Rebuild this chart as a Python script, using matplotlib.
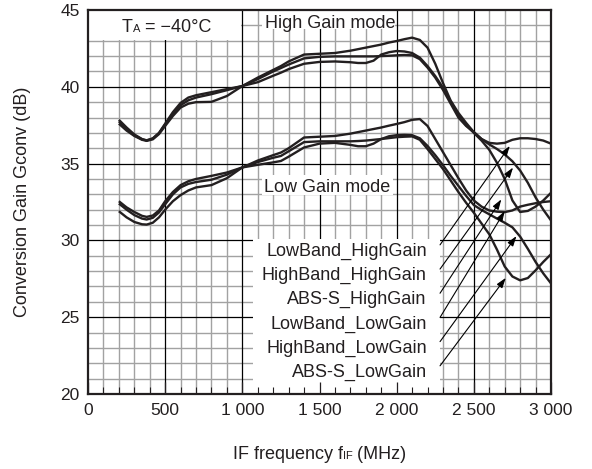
"""
Conversion gain vs IF frequency at TA = -40 C, high and low gain modes.
"""
import matplotlib
matplotlib.use('Agg')
import matplotlib.pyplot as plt
from matplotlib.patches import Rectangle
from matplotlib.ticker import FixedLocator, MultipleLocator
from matplotlib.transforms import offset_copy

plt.rcParams['font.family'] = ['Liberation Sans', 'DejaVu Sans']

# IF frequency (MHz), shared by all curves
freq = [200, 250, 300, 350, 380, 420, 460, 500, 550, 600,
        650, 700, 800, 900, 1000, 1100, 1200, 1250, 1300, 1400,
        1500, 1600, 1700, 1750, 1800, 1850, 1900, 1950, 2000, 2050,
        2100, 2150, 2200, 2250, 2300, 2350, 2400, 2450, 2500, 2550,
        2600, 2650, 2700, 2750, 2800, 2850, 2900, 2950, 3000]

# conversion gain (dB), high gain mode
lowband_high = [37.85, 37.35, 36.9, 36.6, 36.5, 36.65, 37.0, 37.6, 38.35, 38.95,
                39.3, 39.45, 39.65, 39.85, 40.05, 40.6, 41.1, 41.35, 41.65, 42.1,
                42.15, 42.2, 42.35, 42.45, 42.55, 42.65, 42.75, 42.88, 42.98, 43.1,
                43.2, 43.05, 42.55, 41.5, 40.25, 39.1, 38.3, 37.65, 37.05, 36.6,
                36.35, 36.3, 36.35, 36.55, 36.65, 36.65, 36.6, 36.5, 36.3]
highband_high = [37.75, 37.25, 36.85, 36.58, 36.52, 36.62, 36.98, 37.55, 38.25, 38.8,
                 39.12, 39.3, 39.52, 39.78, 40.05, 40.5, 41.0, 41.22, 41.45, 41.85,
                 41.95, 41.98, 41.98, 41.98, 41.98, 41.98, 42.0, 42.02, 42.05, 42.07,
                 42.05, 41.8, 41.25, 40.6, 39.8, 38.9, 38.0, 37.45, 37.05, 36.6,
                 36.25, 35.95, 35.6, 35.15, 34.55, 33.75, 32.8, 32.0, 31.3]
abss_high = [37.6, 37.15, 36.8, 36.55, 36.48, 36.58, 36.92, 37.45, 38.1, 38.65,
             38.9, 39.0, 39.02, 39.4, 40.05, 40.3, 40.72, 40.92, 41.15, 41.5,
             41.62, 41.65, 41.6, 41.55, 41.55, 41.7, 42.1, 42.25, 42.33, 42.3,
             42.2, 41.9, 41.35, 40.7, 39.95, 39.05, 38.15, 37.5, 37.0, 36.5,
             35.9, 35.05, 34.0, 32.6, 31.85, 31.92, 32.2, 32.6, 33.1]

# conversion gain (dB), low gain mode
lowband_low = [32.55, 32.15, 31.85, 31.6, 31.53, 31.62, 31.95, 32.55, 33.15, 33.6,
               33.85, 34.0, 34.2, 34.42, 34.75, 35.2, 35.55, 35.72, 36.0, 36.7,
               36.75, 36.8, 36.95, 37.05, 37.15, 37.25, 37.35, 37.47, 37.58, 37.7,
               37.85, 37.9, 37.45, 36.6, 35.75, 34.9, 34.05, 33.25, 32.6, 32.2,
               31.95, 31.87, 31.84, 31.95, 32.2, 32.32, 32.42, 32.5, 32.55]
highband_low = [31.9, 31.5, 31.2, 31.05, 31.03, 31.15, 31.5, 32.0, 32.55, 32.95,
                33.25, 33.45, 33.6, 34.05, 34.75, 34.92, 35.08, 35.17, 35.45, 36.05,
                36.3, 36.35, 36.22, 36.13, 36.13, 36.3, 36.6, 36.78, 36.85, 36.87,
                36.85, 36.65, 36.15, 35.55, 34.9, 34.2, 33.55, 32.9, 32.3, 31.98,
                31.7, 31.42, 31.15, 30.85, 30.25, 29.45, 28.6, 27.85, 27.2]
abss_low = [32.4, 32.0, 31.65, 31.42, 31.36, 31.47, 31.82, 32.35, 33.0, 33.45,
            33.68, 33.8, 33.95, 34.28, 34.75, 35.1, 35.38, 35.5, 35.8, 36.4,
            36.45, 36.45, 36.45, 36.47, 36.5, 36.55, 36.6, 36.66, 36.72, 36.75,
            36.77, 36.55, 35.95, 35.3, 34.65, 33.9, 33.15, 32.45, 31.8, 31.1,
            30.4, 29.4, 28.3, 27.65, 27.4, 27.55, 28.05, 28.6, 29.1]

series_names = ['LowBand_HighGain', 'HighBand_HighGain', 'ABS-S_HighGain',
                'LowBand_LowGain', 'HighBand_LowGain', 'ABS-S_LowGain']
series_values = [lowband_high, highband_high, abss_high,
                 lowband_low, highband_low, abss_low]

x_ticks = [0, 500, 1000, 1500, 2000, 2500, 3000]
x_tick_labels = ['0', '500', '1 000', '1 500', '2 000', '2 500', '3 000']
y_ticks = [20, 25, 30, 35, 40, 45]

INK = '#231f20'
GRID_MINOR = '#a2a2a2'

fig = plt.figure(figsize=(5.92, 4.69), dpi=100)
ax = fig.add_axes([88 / 592, 75 / 469, 463 / 592, 384 / 469])
ax.set_xlim(0, 3000)
ax.set_ylim(20, 45)

# Grid drawn by hand so the white label boxes can sit over it but under the ticks
ax.vlines([v for v in range(100, 3000, 100) if v % 500], 20, 45, color=GRID_MINOR, lw=1.0, zorder=0.6)
ax.hlines([v for v in range(21, 45) if v % 5], 0, 3000, color=GRID_MINOR, lw=1.0, zorder=0.6)
ax.vlines(x_ticks[1:-1], 20, 45, color='black', lw=0.9, zorder=0.7)
ax.hlines(y_ticks[1:-1], 0, 3000, color='black', lw=0.9, zorder=0.7)

# White boxes behind the texts
for (x0, y0, x1, y1) in [(0, 43.06, 992, 45), (1128, 43.76, 1992, 45),
                         (1126, 32.96, 1979, 34.26), (1071, 20, 2281, 30.1)]:
    ax.add_patch(Rectangle((x0, y0), x1 - x0, y1 - y0, facecolor='white',
                           edgecolor='none', zorder=1))

# Curves
for values in series_values:
    ax.plot(freq, values, color=INK, lw=1.7, zorder=3, solid_capstyle='butt')

# Labels with arrows pointing at the curves
label_top = 29.28
label_step = 1.575
arrow_heads = [(2733, 36.15), (2754, 34.74), (2678, 32.67),
               (2700, 31.9), (2776, 30.28), (2707, 27.56)]
for i, name in enumerate(series_names):
    y = label_top - i * label_step
    ax.text(2195, y, name, ha='right', va='center', fontsize=13, color=INK, zorder=4)
    ax.annotate('', xy=arrow_heads[i], xytext=(2281, y + 0.43),
                arrowprops=dict(arrowstyle='-|>,head_length=0.6,head_width=0.2',
                                color='black', lw=0.8, mutation_scale=10,
                                shrinkA=0, shrinkB=0),
                zorder=4)

ax.text(1147, 43.85, 'High Gain mode', ha='left', va='baseline', fontsize=13, color=INK, zorder=4)
ax.text(1141, 33.17, 'Low Gain mode', ha='left', va='baseline', fontsize=13, color=INK, zorder=4)


def draw_parts(x, y, parts, transform, center=False):
    # Lay out text pieces of different sizes on one baseline
    renderer = fig.canvas.get_renderer()
    widths = []
    for s, size in parts:
        t = fig.text(0, 0, s, fontsize=size)
        widths.append(t.get_window_extent(renderer).width)
        t.remove()
    dx = -sum(widths) / 2 if center else 0
    for (s, size), w in zip(parts, widths):
        fig.text(x, y, s, fontsize=size, color=INK, ha='left', va='baseline',
                 transform=offset_copy(transform, fig, x=dx, y=0, units='dots'),
                 zorder=5)
        dx += w


draw_parts(218, 43.55, [('T', 13), ('A', 8), (' = \u221240\u00b0C', 13)], ax.transData)
draw_parts(319.5 / 592, 10.5 / 469, [('IF frequency f', 13), ('IF', 8), (' (MHz)', 13)],
           fig.transFigure, center=True)
fig.text(22.5 / 592, 1 - 202 / 469, 'Conversion Gain Gconv (dB)', rotation=90,
         ha='center', va='center', fontsize=13, color=INK)

# Axes, ticks
ax.xaxis.set_major_locator(FixedLocator(x_ticks))
ax.set_xticklabels(x_tick_labels)
ax.xaxis.set_minor_locator(MultipleLocator(100))
ax.yaxis.set_major_locator(FixedLocator(y_ticks))
ax.tick_params(axis='x', which='major', direction='in', length=9, width=0.9,
               color=INK, labelsize=12.5, pad=6.5, labelcolor=INK, top=False)
ax.tick_params(axis='x', which='minor', direction='in', length=5, width=0.8,
               color=INK, top=False)
ax.tick_params(axis='y', which='both', length=0, labelsize=12.5, pad=6, labelcolor=INK)
for spine in ax.spines.values():
    spine.set_linewidth(1.6)
    spine.set_color(INK)
    spine.set_zorder(6)

plt.savefig('out.png', dpi=100)
